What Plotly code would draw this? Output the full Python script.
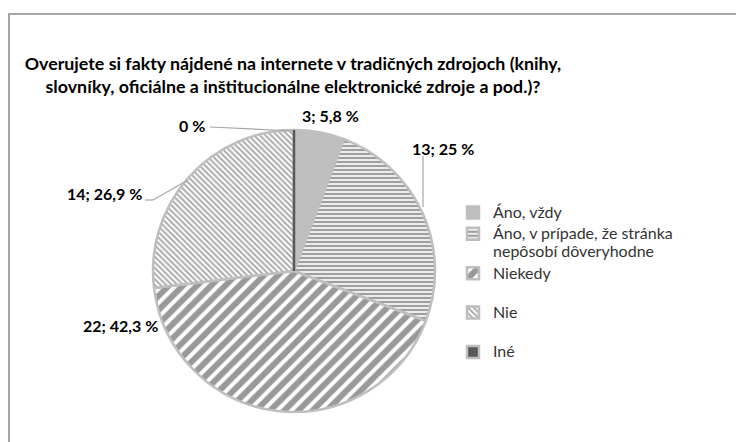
import math
import plotly.graph_objects as go

# ---- data ----
categories = ["Áno, vždy", "Áno, v prípade, že stránka nepôsobí dôveryhodne",
              "Niekedy", "Nie", "Iné"]
counts = [3, 13, 22, 14, 0]
percent_labels = ["5,8 %", "25 %", "42,3 %", "26,9 %", "0 %"]
title_text = ("Overujete si fakty nájdené na internete v tradičných zdrojoch (knihy,<br>"
              "slovníky, oficiálne a inštitucionálne elektronické zdroje a pod.)?")

W, H = 744, 442
OFF = 8  # observed offset of the paper area in the rendered page
def px(x): return (x - OFF) / W
def py(y): return 1 - (y - OFF) / H

# pie geometry (pixels)
CX, CY, R = 294, 271, 141

legend_lines = ["Áno, vždy",
                "Áno, v prípade, že stránka<br>nepôsobí dôveryhodne",
                "Niekedy<br> ", "Nie<br> ", "Iné"]
legend_names = [f"<span style='font-size:16px'>{t}</span>" for t in legend_lines]

fills = ["#bfbfbf", "white", "white", "white", "#595959"]
shapes_p = ["", "-", "/", "\\", ""]
fg = ["#bfbfbf", "#404040", "#333333", "#595959", "#595959"]
sizes = [4, 4, 10, 4, 4]
solid = [0.3, 0.6, 0.6, 0.5, 0.3]

fig = go.Figure()
fig.add_trace(go.Pie(
    labels=legend_names,
    values=counts,
    sort=False,
    direction="clockwise",
    rotation=0,
    textinfo="none",
    hoverinfo="label+value",
    domain=dict(x=[px(CX - R), px(CX + R)], y=[py(CY + R), py(CY - R)]),
    marker=dict(
        colors=fills,
        line=dict(color="#bfbfbf", width=2.5),
        pattern=dict(shape=shapes_p, fgcolor=fg, bgcolor=fills,
                     size=sizes, solidity=solid, fillmode="overlay"),
    ),
))

# Zero-valued slice drawn as a line at its start angle (from data)
total = sum(counts)
cum = sum(counts[:4])
ang = math.radians(360 * cum / total)
shapes = [
    dict(type="line", xref="paper", yref="paper",
         x0=px(CX), y0=py(CY), x1=px(CX + R * math.sin(ang)), y1=py(CY - R * math.cos(ang)),
         line=dict(color="#595959", width=2.5)),
    # outer frame
    dict(type="rect", xref="paper", yref="paper",
         x0=px(9), y0=py(470), x1=px(770), y1=py(14),
         line=dict(color="#a6a6a6", width=2), fillcolor="rgba(0,0,0,0)"),
]

# leader lines
leaders = [
    [(423, 156), (423, 207)],
    [(145, 200), (153, 200), (188, 180)],
    [(210, 127), (293, 131)],
]
for pts in leaders:
    for (x0, y0), (x1, y1) in zip(pts[:-1], pts[1:]):
        shapes.append(dict(type="line", xref="paper", yref="paper",
                           x0=px(x0), y0=py(y0), x1=px(x1), y1=py(y1),
                           line=dict(color="#a6a6a6", width=1.2)))

label_pos = [(330, 115), (443, 148), (120, 325), (104, 193), (192, 126)]
annotations = []
for i, (c, p) in enumerate(zip(counts, percent_labels)):
    txt = p if c == 0 else f"{c}; {p}"
    x, y = label_pos[i]
    annotations.append(dict(text=f"<b>{txt}</b>", x=px(x), y=py(y), xref="paper", yref="paper",
                            showarrow=False, xanchor="center", yanchor="middle",
                            font=dict(family="Lato, Liberation Sans", size=16, color="#000000")))

fig.update_layout(
    width=W, height=H,
    margin=dict(l=0, r=0, t=0, b=0, autoexpand=False),
    paper_bgcolor="white", plot_bgcolor="white",
    title=dict(text=f"<b>{title_text}</b>", x=285 / W, xanchor="center",
               y=1 - 62 / H, yanchor="top",
               font=dict(family="Lato, Liberation Sans", size=17.8, color="#000000")),
    showlegend=True,
    legend=dict(x=px(453), y=py(197), xanchor="left", yanchor="top",
                valign="top", font=dict(family="Lato, Liberation Sans", size=14, color="#333333"),
                bgcolor="rgba(0,0,0,0)", itemclick=False),
    shapes=shapes,
    annotations=annotations,
)

fig.write_html("out.html")
